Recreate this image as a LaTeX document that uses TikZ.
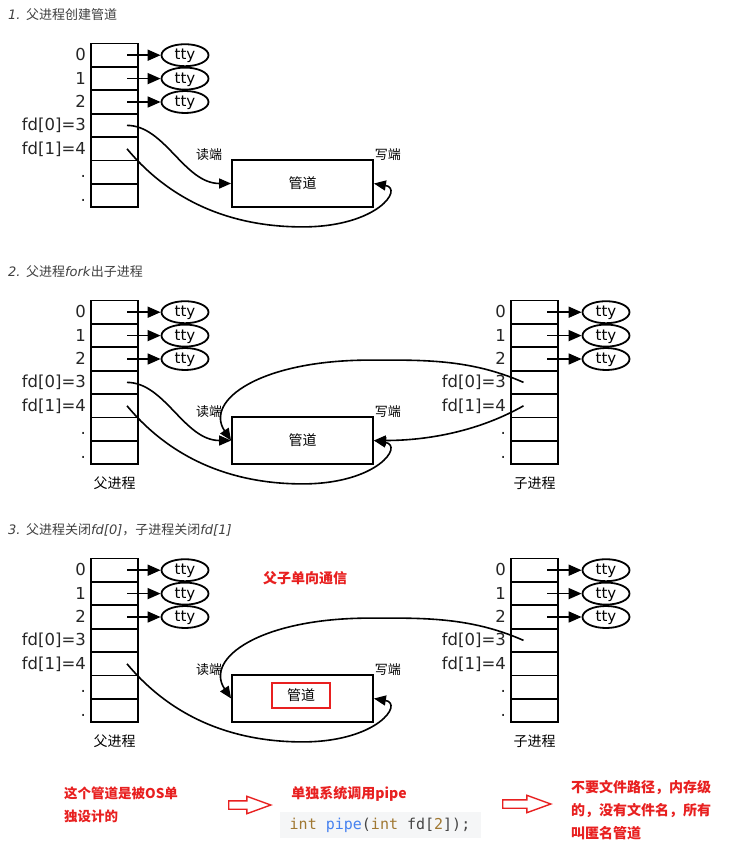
\documentclass[tikz,border=0pt]{standalone}
\usepackage{fontspec}
\setmainfont{DejaVu Sans}
\newfontfamily\cjk{Noto Sans CJK SC}
\newfontfamily\codefont{DejaVu Sans Mono}
\usepackage{xcolor}
\usetikzlibrary{shapes.geometric, shapes.arrows, arrows.meta, positioning, calc}
\definecolor{notered}{RGB}{232,32,32}
\definecolor{codekw}{RGB}{160,120,50}
\definecolor{codefn}{RGB}{70,130,240}
\definecolor{codetxt}{RGB}{70,70,70}
\definecolor{codebg}{RGB}{245,246,247}

\begin{document}
\begin{tikzpicture}[x=1pt, y=-1pt,
  cell/.style={rectangle, draw, line width=1.9pt, minimum width=47pt, minimum height=23.4pt, inner sep=0pt},
  fdlabel/.style={anchor=base east, inner sep=0pt, font=\fontsize{16.5}{17}\selectfont, text=black!85},
  tty/.style={ellipse, draw, line width=1.8pt, minimum width=47pt, minimum height=22pt, inner sep=0pt, text depth=1pt, font=\fontsize{15}{16}\selectfont},
  ttyarrow/.style={-{Triangle[length=13pt, width=11pt]}, line width=1.6pt},
  pipearrow/.style={-{Triangle[length=12pt, width=10pt]}, line width=1.6pt},
  pipe/.style={rectangle, draw, line width=1.8pt, minimum width=141pt, minimum height=47pt, font=\cjk\fontsize{14}{14}\selectfont},
  endlabel/.style={font=\cjk\fontsize{13}{13}\selectfont, inner sep=0pt},
  proclabel/.style={font=\cjk\fontsize{14}{14}\selectfont, inner sep=0pt},
  steptitle/.style={anchor=west, inner sep=0pt, text=black!75, font=\fontsize{13}{13}\selectfont},
  note/.style={anchor=west, align=left, inner sep=0pt, text=notered, font=\cjk\bfseries\fontsize{14}{23}\selectfont},
  hollow/.style={single arrow, draw=notered, line width=1.4pt, fill=white, inner sep=3.5pt, single arrow head extend=4.5pt, single arrow tip angle=40},
  codebox/.style={rectangle, fill=codebg, minimum width=201pt, minimum height=26pt, inner sep=0pt, text=codetxt, font=\codefont\fontsize{15}{15}\selectfont}
]
  % Background and page size
  \fill[white] (0,0) rectangle (745,863);
  \useasboundingbox (0,0) rectangle (745,863);

  % Step titles
  \node[steptitle] (title1) at (8,15) {\textit{1.} {\cjk 父进程创建管道}};
  \node[steptitle] (title2) at (8,272) {\textit{2.} {\cjk 父进程}\textit{fork}{\cjk 出子进程}};
  \node[steptitle] (title3) at (8,530) {\textit{3.} {\cjk 父进程关闭}\textit{fd[0]}{\cjk ，子进程关闭}\textit{fd[1]}};

  % Parent fd tables
  \foreach \s/\top in {1/43.5, 2/300.5, 3/558.5} {
    \foreach \r/\lab in {0/0, 1/1, 2/2, 3/{fd[0]=3}, 4/{fd[1]=4}, 5/{.\hspace{8pt}}, 6/{.\hspace{8pt}}} {
      \node[cell] (pcell\s-\r) at (114.5, \top+11.7+23.4*\r) {};
      \node[fdlabel] (plab\s-\r) at ([xshift=-4pt, yshift=-5.5pt]pcell\s-\r.west) {\lab};
    }
    \foreach \r in {0,1,2} {
      \node[tty] (ptty\s-\r) at (185, \top+11.7+23.4*\r) {tty};
      \draw[ttyarrow] ([xshift=12.5pt]pcell\s-\r.center) -- (ptty\s-\r.west);
    }
  }

  % Child fd tables
  \foreach \s/\top in {2/300.5, 3/558.5} {
    \foreach \r/\lab in {0/0, 1/1, 2/2, 3/{fd[0]=3}, 4/{fd[1]=4}, 5/{.\hspace{8pt}}, 6/{.\hspace{8pt}}} {
      \node[cell] (ccell\s-\r) at (534.5, \top+11.7+23.4*\r) {};
      \node[fdlabel] (clab\s-\r) at ([xshift=-4pt, yshift=-5.5pt]ccell\s-\r.west) {\lab};
    }
    \foreach \r in {0,1,2} {
      \node[tty] (ctty\s-\r) at (606, \top+11.7+23.4*\r) {tty};
      \draw[ttyarrow] ([xshift=12.5pt]ccell\s-\r.center) -- (ctty\s-\r.west);
    }
    \node[proclabel] (pname\s) at ([yshift=-18pt]pcell\s-6.south) {父进程};
    \node[proclabel] (cname\s) at ([yshift=-18pt]ccell\s-6.south) {子进程};
  }

  % Pipes
  \node[pipe] (pipe1) at (302.5,183.5) {管道};
  \node[pipe] (pipe2) at (302.5,440.5) {管道};
  \node[pipe] (pipe3) at (302.5,698.5) {};
  \node[pipe, draw=notered, line width=1.4pt, minimum width=58pt, minimum height=25pt] (pipe3name) at (301,695.5) {管道};
  \foreach \s in {1,2,3} {
    \node[endlabel] (rd\s) at ([xshift=-22pt, yshift=5pt]pipe\s.north west) {读端};
    \node[endlabel] (wr\s) at ([xshift=14pt, yshift=5pt]pipe\s.north east) {写端};
  }

  % Step 1 connections
  \draw[pipearrow] ([xshift=12.5pt]pcell1-3.center) .. controls +(38,0) and +(-47,0) .. (pipe1.west);
  \draw[pipearrow] ([xshift=12.5pt]pcell1-4.center) .. controls +(50,60) and +(-60,0) .. ([yshift=-19pt]pipe1.south) .. controls +(75,0) and +(30,5) .. (pipe1.east);

  % Step 2 connections
  \draw[pipearrow] ([xshift=12.5pt]pcell2-3.center) .. controls +(38,0) and +(-47,0) .. (pipe2.west);
  \draw[pipearrow] ([xshift=12.5pt]pcell2-4.center) .. controls +(50,60) and +(-60,0) .. ([yshift=-19pt]pipe2.south) .. controls +(75,0) and +(30,5) .. (pipe2.east);
  \draw[pipearrow] ([xshift=-11pt]ccell2-3.center) .. controls +(-54,-24) and +(50,0) .. ([xshift=67.5pt, yshift=56pt]pipe2.north) .. controls +(-110,0) and +(-27,-40) .. (pipe2.west);
  \draw[pipearrow] ([xshift=-11pt]ccell2-4.center) .. controls +(-44,25) and +(55,0) .. (pipe2.east);

  % Step 3 connections
  \node[font=\cjk\bfseries\fontsize{14}{14}\selectfont, text=notered] (oneway) at (305,578) {父子单向通信};
  \draw[pipearrow] ([xshift=12.5pt]pcell3-4.center) .. controls +(50,60) and +(-60,0) .. ([yshift=-19pt]pipe3.south) .. controls +(75,0) and +(30,5) .. (pipe3.east);
  \draw[pipearrow] ([xshift=-11pt]ccell3-3.center) .. controls +(-54,-24) and +(50,0) .. ([xshift=67.5pt, yshift=56pt]pipe3.north) .. controls +(-110,0) and +(-27,-40) .. (pipe3.west);

  % Notes
  \node[note, font=\cjk\bfseries\fontsize{13.5}{23}\selectfont] (osnote) at (64,804.5) {这个管道是被OS单\\独设计的};
  \node[hollow, minimum height=42pt] (arrowa) at (244,805) {};
  \node[note, anchor=center] (sysnote) at (349,794) {单独系统调用pipe};
  \node[codebox] (code) at (380,825) {\textcolor{codekw}{int} \textcolor{codefn}{pipe}(\textcolor{codekw}{int} fd[\textcolor{codekw}{2}]);};
  \node[hollow, minimum height=48pt] (arrowb) at (521,804) {};
  \node[note] (anonnote) at (571,810) {不要文件路径，内存级\\的，没有文件名，所有\\叫匿名管道};
\end{tikzpicture}
\end{document}
